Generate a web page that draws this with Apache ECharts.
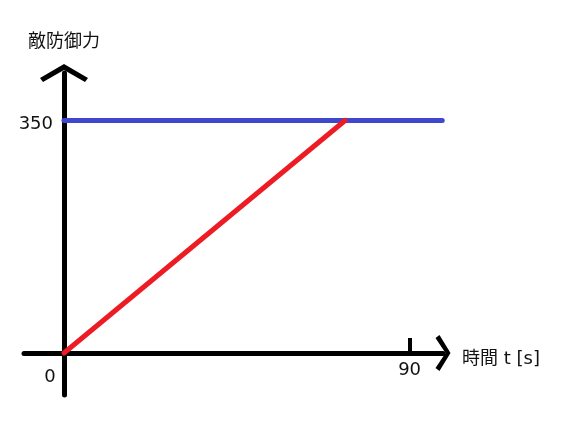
<!DOCTYPE html>
<html lang="ja">
<head>
    <meta charset="UTF-8">
    <title>敵防御力</title>
    <script src="https://cdn.jsdelivr.net/npm/echarts@6/dist/echarts.min.js"></script>
    <style>
        html, body { margin: 0; padding: 0; background: #fff; }
    </style>
</head>
<body>
<div id="main" style="width: 571px;height:422px;"></div>
    <script type="text/javascript">
        // 目盛り
        var xTicks = [0, 90];
        var yTicks = [350];
        // 赤線 (上昇) と 青線 (上限)
        var redT = [0, 73.2];
        var redV = [0, 350];
        var blueT = [0, 98.5];
        var blueV = [350, 350];

        function pairs(xs, ys) {
            var out = [];
            for (var i = 0; i < xs.length; i++) {
                out.push([xs[i], ys[i]]);
            }
            return out;
        }

        var font = '"DejaVu Sans", "Noto Sans CJK JP", sans-serif';
        var txt = { fontFamily: font, fontSize: 18, color: '#111' };
        var myChart = echarts.init(document.getElementById('main'));
        var option = {
            animation: false,
            backgroundColor: '#fff',
            grid: {
                left: 24, right: 128, top: 73, bottom: 27,
                outerBoundsMode: 'none'
            },
            xAxis: {
                type: 'value',
                position: 'bottom',
                offset: -42,
                min: -10.4,
                max: 98.7,
                name: '{n|時間 t [s]}',
                nameLocation: 'end',
                nameGap: 19,
                nameTextStyle: {
                    fontFamily: font, fontSize: 18, color: '#111',
                    rich: { n: { fontFamily: font, fontSize: 18, color: '#111', padding: [12, 0, 0, 0] } }
                },
                axisLine: {
                    onZero: false,
                    lineStyle: { color: '#000', width: 5 },
                    symbol: ['none', 'path://M18,0 L36,11 L33,15 L18,5 L3,15 L0,11 Z'],
                    symbolSize: [36, 15]
                },
                axisTick: {
                    show: true,
                    inside: true,
                    length: 15,
                    customValues: [90],
                    lineStyle: { color: '#000', width: 4 }
                },
                axisLabel: {
                    customValues: xTicks,
                    margin: 8,
                    fontFamily: font,
                    fontSize: 18,
                    color: '#111',
                    formatter: function (v) {
                        return v === 0 ? '{o|0}' : String(v);
                    },
                    rich: {
                        o: { fontFamily: font, fontSize: 18, color: '#111', padding: [7, 28, 0, 0] }
                    }
                },
                splitLine: { show: false }
            },
            yAxis: {
                type: 'value',
                position: 'left',
                offset: -40,
                min: -63.2,
                max: 421.5,
                name: '敵防御力',
                nameLocation: 'end',
                nameGap: 22,
                nameTextStyle: txt,
                axisLine: {
                    show: true,
                    onZero: false,
                    lineStyle: { color: '#000', width: 5 },
                    symbol: ['none', 'path://M24,0 L48,14 L45,18 L24,6 L3,18 L0,14 Z'],
                    symbolSize: [48, 18]
                },
                axisTick: { show: false },
                axisLabel: {
                    customValues: yTicks,
                    margin: 11,
                    fontFamily: font,
                    fontSize: 18,
                    color: '#111',
                    formatter: function (v) {
                        return '{a|' + v + '}';
                    },
                    rich: {
                        a: { fontFamily: font, fontSize: 18, color: '#111', padding: [7, 0, 0, 0] }
                    }
                },
                splitLine: { show: false }
            },
            series: [
                {
                    name: 'limit',
                    type: 'line',
                    data: pairs(blueT, blueV),
                    showSymbol: false,
                    clip: false,
                    lineStyle: { color: '#3F48CC', width: 5, cap: 'round' },
                    z: 3
                },
                {
                    name: 'defense',
                    type: 'line',
                    data: pairs(redT, redV),
                    showSymbol: false,
                    clip: false,
                    lineStyle: { color: '#ED1C24', width: 5, cap: 'round' },
                    z: 4
                }
            ]
        };
        myChart.setOption(option);
    </script>
</body>
</html>
